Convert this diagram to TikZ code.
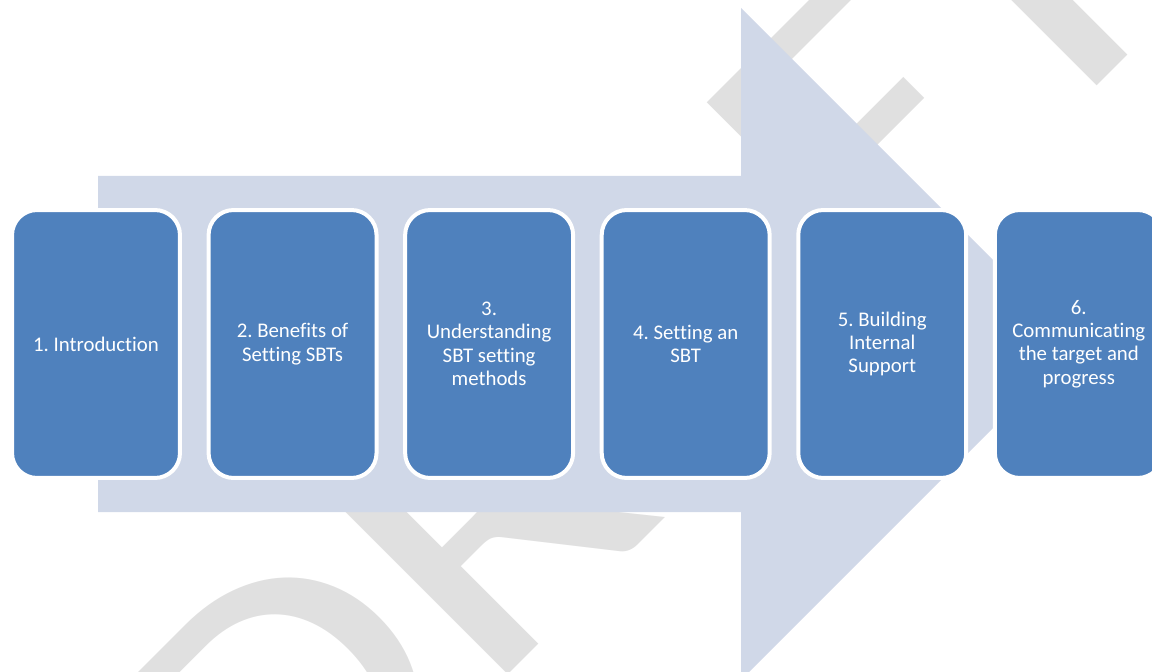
\documentclass[tikz,border=0pt]{standalone}
\usepackage{fontspec}
\setmainfont{Carlito}[Ligatures=NoCommon]
\newfontfamily\wmfont[FakeStretch=1.185]{Carlito}
\usetikzlibrary{positioning}
\frenchspacing
\hyphenpenalty=10000
\exhyphenpenalty=10000

\definecolor{arrowfill}{HTML}{D0D8E8}
\definecolor{phasefill}{HTML}{4F81BD}
\definecolor{wmgray}{HTML}{E0E0E0}

\tikzset{
  phase/.style={rectangle, rounded corners=0.5cm, fill=phasefill, draw=white,
    line width=0.08cm, outer sep=0pt, minimum width=3.36cm, minimum height=5.36cm,
    text width=2.72cm, align=flush center, text=white,
    font=\fontsize{11.85pt}{13.3pt}\selectfont},
  watermark/.style={anchor=base west, inner sep=0pt, outer sep=0pt, rotate=45,
    text=wmgray, font=\wmfont\fontsize{234pt}{234pt}\selectfont}
}

\begin{document}
\begin{tikzpicture}[x=0.02cm, y=-0.02cm]
\useasboundingbox (0,0) rectangle (1152,672);

% watermark behind everything
\node[watermark] (wm) at (272,911) {DRAFT};

% big process arrow
\fill[arrowfill] (98,176) -- (741,176) -- (741,8) -- (1077,344)
  -- (741,680) -- (741,512) -- (98,512) -- cycle;

% the six steps
\node[phase] (s1) at (96,344) {1. Introduction};
\node[phase, right=0.572cm of s1] (s2) {2. Benefits of Setting SBTs};
\node[phase, right=0.572cm of s2] (s3) {3. Understanding SBT setting methods};
\node[phase, right=0.572cm of s3] (s4) {4. Setting an SBT};
\node[phase, right=0.572cm of s4] (s5) {5. Building Internal Support};
\node[phase, right=0.572cm of s5] (s6) {6. Communicating the target and progress};

\end{tikzpicture}
\end{document}
